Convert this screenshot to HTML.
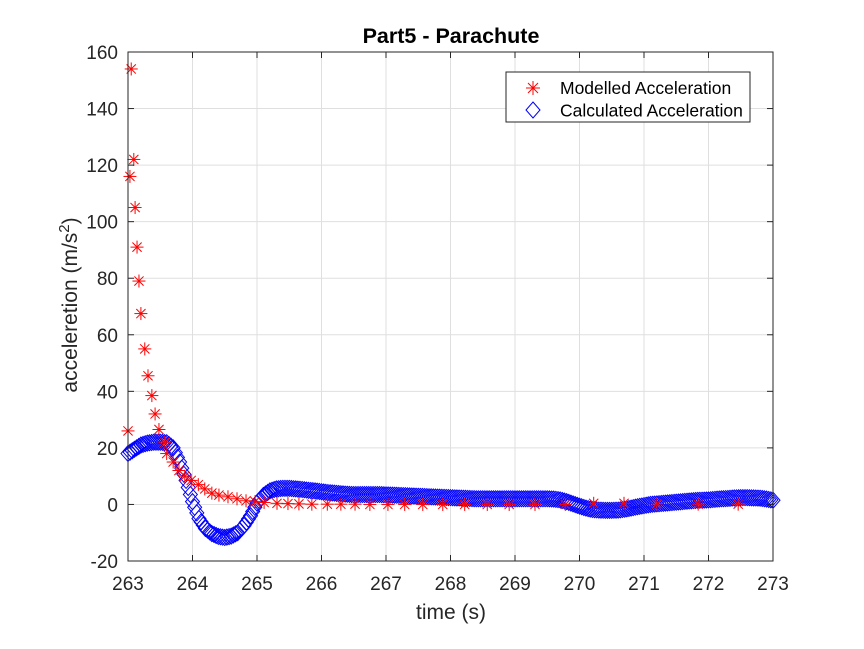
<!DOCTYPE html>
<html><head><meta charset="utf-8"><style>
body{margin:0;background:#fff;}
svg{font-family:"Liberation Sans",Arial,sans-serif;}
</style></head><body>
<svg id="chart" width="864" height="644" viewBox="0 0 864 644">
<rect x="0" y="0" width="864" height="644" fill="#fff"/>
<rect x="128" y="52" width="645" height="509" fill="#fff"/>
<g id="grid"></g>
<g id="blue"></g>
<g id="red"></g>
<rect x="128" y="52" width="645" height="509" fill="none" stroke="#262626" stroke-width="1"/>
<g id="ticks"></g>
<text x="451" y="43" text-anchor="middle" font-size="21.5" font-weight="bold" fill="#000">Part5 - Parachute</text>
<text x="451" y="619" text-anchor="middle" font-size="21" fill="#262626">time (s)</text>
<text transform="translate(77,305) rotate(-90)" text-anchor="middle" font-size="21" fill="#262626">acceleretion (m/s<tspan dy="-8" font-size="15">2</tspan><tspan dy="8">)</tspan></text>
<g>
<rect x="506" y="72" width="244" height="50" fill="#fff" stroke="#262626" stroke-width="1"/>
<g>
<g stroke="#f00" stroke-width="1"><line x1="526" y1="88" x2="540" y2="88"/><line x1="533" y1="81" x2="533" y2="95"/><line x1="528" y1="83" x2="538" y2="93"/><line x1="538" y1="83" x2="528" y2="93"/></g>
<text x="560" y="94" font-size="17.5" fill="#000">Modelled Acceleration</text></g>
<g>
<path d="M533 102 L540 110 L533 118 L526 110 Z" fill="none" stroke="#00f" stroke-width="1"/>
<text x="560" y="116.5" font-size="17.5" fill="#000">Calculated Acceleration</text></g>
</g>
</svg>
<script>
const xTicks=[263,264,265,266,267,268,269,270,271,272,273];
const yTicks=[-20,0,20,40,60,80,100,120,140,160];
const redTime=[263.0,263.03,263.05,263.09,263.11,263.14,263.17,263.20,263.26,263.31,263.37,263.42,263.48,263.57,263.60,263.70,263.79,263.88,263.98,264.09,264.19,264.30,264.41,264.55,264.69,264.83,264.97,265.11,265.31,265.48,265.65,265.85,266.09,266.30,266.52,266.75,267.03,267.29,267.57,267.88,268.22,268.57,268.91,269.31,269.78,270.22,270.69,271.20,271.84,272.46];
const redAccel=[26,116,154,122,105,91,79,67.5,55,45.5,38.5,32,26.5,22,18,15,12,10,8.5,7,5.5,4,3.3,2.7,2,1.3,1,0.7,0.4,0.3,0.2,0.1,0.1,0.1,0.1,0,0,0,0,0,0,0,0,0,0,0.4,0.4,0.2,0.1,0.1];
const blueTime=[];for(let i=0;i<=100;i++)blueTime.push(+(263+i*0.1).toFixed(1));
const blueAccel=[18,19.5,21,21.7,22,22,21.8,20,15,8.5,1,-5,-8.5,-10.3,-11.3,-11.7,-11.2,-10,-7.5,-4,0.5,3.2,4.8,5.5,5.7,5.7,5.5,5.3,5,4.8,4.5,4.2,4,3.8,3.6,
3.5,3.5,3.5,3.5,3.5,3.4,3.3,3.2,3.1,3,2.9,2.8,2.7,2.6,2.5,2.4,2.3,2.2,2.1,2,2,2,2,2,2,2,2,2,2,2,2,1.9,1.6,1,0.2,-0.6,-1.3,-1.8,-2,-2.1,-2.1,-2,-1.7,-1.3,-0.8,-0.4,0,0.2,0.4,0.6,0.8,1,1.2,1.4,1.5,1.6,1.8,2,2.1,2.3,2.4,2.4,2.3,2.2,1.9,1.5];
const NS='http://www.w3.org/2000/svg';
const X=t=>128+(t-263)*64.5;
const Y=v=>52+(160-v)*(509/180);
function mk(tag,attrs,parent){const e=document.createElementNS(NS,tag);for(const k in attrs)e.setAttribute(k,attrs[k]);parent.appendChild(e);return e;}
const grid=document.getElementById('grid'),ticks=document.getElementById('ticks');
xTicks.forEach(t=>{
 const g=mk('line',{x1:X(t),x2:X(t),y1:52,y2:561,stroke:'#dfdfdf','stroke-width':1},grid);
 
 
 mk('line',{x1:X(t),x2:X(t),y1:561,y2:555,stroke:'#262626'},ticks);
 mk('line',{x1:X(t),x2:X(t),y1:52,y2:58,stroke:'#262626'},ticks);
 const l=mk('text',{x:X(t),y:590,'text-anchor':'middle','font-size':19,fill:'#262626'},ticks);
 l.textContent=t;
 
 
});
yTicks.forEach(v=>{
 const g=mk('line',{x1:128,x2:773,y1:Y(v),y2:Y(v),stroke:'#dfdfdf','stroke-width':1},grid);
 
 
 mk('line',{x1:128,x2:134,y1:Y(v),y2:Y(v),stroke:'#262626'},ticks);
 mk('line',{x1:773,x2:767,y1:Y(v),y2:Y(v),stroke:'#262626'},ticks);
 const l=mk('text',{x:118,y:Y(v)+7,'text-anchor':'end','font-size':19,fill:'#262626'},ticks);
 l.textContent=v;
 
 
});
const blue=document.getElementById('blue');
function diamond(x,y){return `M${x} ${y-8} L${x+7} ${y} L${x} ${y+8} L${x-7} ${y} Z`;}
for(let i=0;i<blueTime.length;i++){
 const x=X(blueTime[i]),y=Y(blueAccel[i]);
 const p=mk('path',{d:diamond(x,y),fill:'none',stroke:'#00f','stroke-width':1},blue);
 
 
 if(i<blueTime.length-1){
  for(let k=1;k<3;k++){
   const f=k/3,xx=x+(X(blueTime[i+1])-x)*f,yy=y+(Y(blueAccel[i+1])-y)*f;
   mk('path',{d:diamond(xx,yy),fill:'none',stroke:'#00f','stroke-width':1},blue);
  }
 }
}
const red=document.getElementById('red');
for(let i=0;i<redTime.length;i++){
 const x=X(redTime[i]),y=Y(redAccel[i]);
 const g=mk('g',{stroke:'#f00','stroke-width':1},red);
 
 
 mk('line',{x1:x-6.5,y1:y,x2:x+6.5,y2:y},g);
 mk('line',{x1:x,y1:y-6.5,x2:x,y2:y+6.5},g);
 mk('line',{x1:x-4.6,y1:y-4.6,x2:x+4.6,y2:y+4.6},g);
 mk('line',{x1:x+4.6,y1:y-4.6,x2:x-4.6,y2:y+4.6},g);
}
</script>
</body></html>
